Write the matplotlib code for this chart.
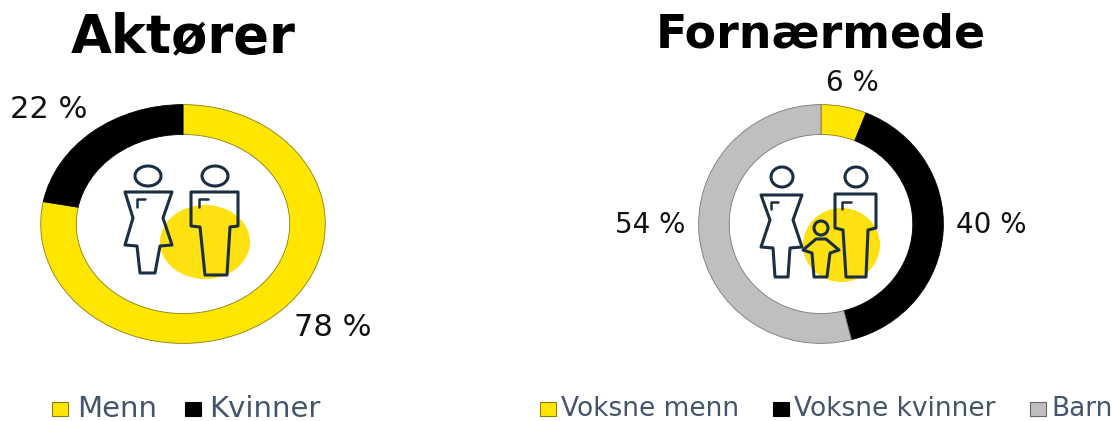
# Two donut charts with people icons: Aktører and Fornærmede

import matplotlib
matplotlib.use("Agg")
import matplotlib.pyplot as plt
from matplotlib.patches import Ellipse, Polygon, Rectangle

W, H = 1113, 421

akt_labels = ["Menn", "Kvinner"]
akt_values = [78, 22]
forn_labels = ["Voksne menn", "Voksne kvinner", "Barn"]
forn_values = [6, 40, 54]

YELLOW = "#FFE600"
BLACK = "#000000"
GREY = "#BFBFBF"
SLATE = "#44546A"
NAVY = "#1A2E44"

fig = plt.figure(figsize=(W / 100, H / 100), dpi=100)


# Draw a donut into an axes placed by pixel box
def donut(cx, cy, rx, ry, values, colors, edges, width):
    ax = fig.add_axes([(cx - rx) / W, 1 - (cy + ry) / H, 2 * rx / W, 2 * ry / H])
    wedges, _ = ax.pie(values, colors=colors, startangle=90, counterclock=False,
                       radius=1, wedgeprops={"width": width})
    for w, e in zip(wedges, edges):
        w.set_edgecolor(e)
        w.set_linewidth(0.6)
    ax.set_aspect("auto")
    ax.set_xlim(-1.005, 1.005)
    ax.set_ylim(-1.005, 1.005)
    ax.axis("off")


donut(183, 224, 143, 120, akt_values, [YELLOW, BLACK], ["#8a7c10", "#000000"], 0.25)
donut(821, 224, 123, 120, forn_values, [YELLOW, BLACK, GREY],
      ["#8a7c10", "#000000", "#777777"], 0.25)

# Overlay in pixel coordinates for icons and text
ov = fig.add_axes([0, 0, 1, 1], facecolor="none")
ov.set_xlim(0, W)
ov.set_ylim(H, 0)
ov.axis("off")


def outline(pts, lw=2.2):
    ov.add_patch(Polygon(pts, closed=True, fill=False, edgecolor=NAVY, lw=lw, joinstyle="round"))


def head(x, y, rx, ry, lw=2.2):
    ov.add_patch(Ellipse((x, y), 2 * rx, 2 * ry, fill=False, edgecolor=NAVY, lw=lw))


def hook(pts):
    ov.plot([p[0] for p in pts], [p[1] for p in pts], color=NAVY, lw=1.8, solid_capstyle="round")


# Left icon
ov.add_patch(Ellipse((205, 242), 90, 74, color="#FFE010", lw=0))
head(148, 176, 13, 10)
outline([(125, 192), (172, 192), (163, 218), (172, 245), (160, 246), (155, 273),
         (140, 273), (137, 246), (125, 245), (133, 218)])
hook([(137, 207), (137, 199), (145, 199)])
head(215, 176, 13, 10)
outline([(191, 192), (238, 192), (238, 226), (230, 227), (227, 275), (205, 275),
         (200, 227), (191, 226)])
hook([(199, 207), (199, 199), (208, 199)])

# Right icon
ov.add_patch(Ellipse((841.5, 245), 77, 74, color="#FFE010", lw=0))
head(782, 177, 11, 10)
outline([(761, 195), (802, 195), (793, 220), (802, 247), (790, 248), (788, 277),
         (775, 277), (773, 248), (761, 247), (770, 220)])
hook([(771, 209), (771, 202), (778, 202)])
head(856, 177, 11, 10)
outline([(835, 194), (876, 194), (876, 228), (868, 230), (866, 277), (846, 277),
         (843, 230), (835, 228)])
hook([(842, 209), (842, 202), (851, 202)])
head(821, 228, 7, 7)
outline([(816, 239), (826, 239), (839, 250), (830, 253), (827, 277), (814, 277),
         (812, 253), (803, 250)])

# Titles
ov.text(183, 37, "Aktører", ha="center", va="center", fontsize=38, fontweight="bold", color="black")
ov.text(821, 35, "Fornærmede", ha="center", va="center", fontsize=33, fontweight="bold", color="black")

# Percent labels
for x, y, v, fs in [(49, 110, akt_values[1], 22), (333, 327, akt_values[0], 22),
                    (852, 83, forn_values[0], 20), (991, 225, forn_values[1], 20),
                    (650, 225, forn_values[2], 20)]:
    ov.text(x, y, f"{v} %", ha="center", va="center", fontsize=fs, color="#111111")

# Legends
for x, tx, c, e, s, fs in [(52, 77, YELLOW, "#8a7c10", akt_labels[0], 21),
                           (185, 209, BLACK, BLACK, akt_labels[1], 21),
                           (540, 561, YELLOW, "#8a7c10", forn_labels[0], 19),
                           (773, 794, BLACK, BLACK, forn_labels[1], 19),
                           (1030, 1051, GREY, "#666666", forn_labels[2], 19)]:
    ov.add_patch(Rectangle((x, 402), 16, 14, facecolor=c, edgecolor=e, lw=0.8))
    ov.text(tx, 409, s, ha="left", va="center", fontsize=fs, color=SLATE)

fig.savefig("out.png", dpi=100)
